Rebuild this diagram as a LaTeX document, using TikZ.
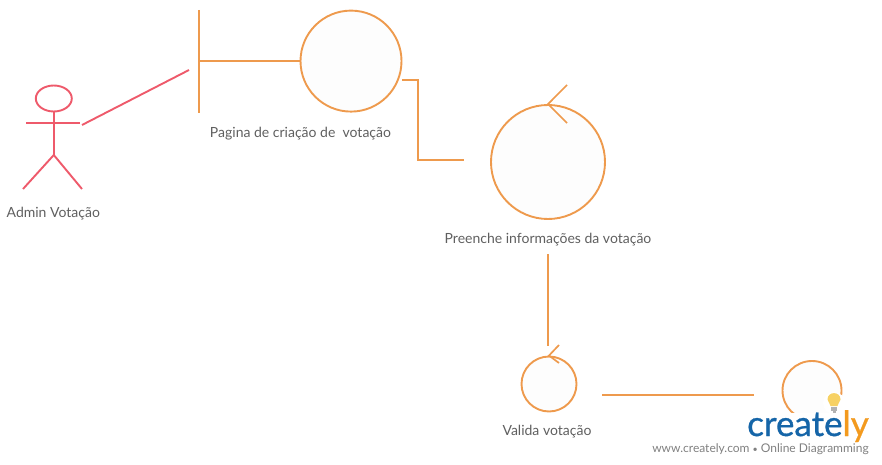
\documentclass[tikz,border=0pt]{standalone}
\usepackage{fontspec}
\setmainfont{Lato}[]
\newfontfamily\logofont{Lato}[FakeBold=0.8]
\usetikzlibrary{shapes.geometric}
\definecolor{linkor}{HTML}{EE9A4D}
\definecolor{actorred}{HTML}{EE5A6B}
\definecolor{txtgray}{HTML}{5F5F5F}
\definecolor{fillgray}{HTML}{FDFDFD}
\definecolor{logoblue}{HTML}{1565A8}
\definecolor{logoor}{HTML}{F39A1E}
\definecolor{bulb}{HTML}{F7D163}
\tikzset{
  orline/.style={draw=linkor,line width=1.9pt},
  redline/.style={draw=actorred,line width=1.9pt},
  ctl/.style={circle,draw=linkor,line width=1.9pt,fill=fillgray,inner sep=0pt},
  lbl/.style={text=txtgray,font=\fontsize{14}{16}\selectfont,inner sep=0pt,anchor=center},
}
\begin{document}
\begin{tikzpicture}[x=1pt,y=-1pt]
\useasboundingbox (0,0) rectangle (882,465);
% actor
\node[ellipse,draw=actorred,line width=1.9pt,minimum width=36pt,minimum height=26pt,inner sep=0pt] (head) at (53.8,98.5) {};
\coordinate (armL) at (26,123);
\coordinate (armR) at (80,123);
\coordinate (hip) at (53.8,155);
\coordinate (footL) at (23,189);
\coordinate (footR) at (82,189);
\draw[redline] (head.south) -- (hip);
\draw[redline] (armL) -- (armR);
\draw[redline] (footL) -- (hip) -- (footR);
\node[lbl] (actorlbl) at (53.3,214) {Admin Votação};
% boundary
\node[ctl,minimum size=101pt] (pagina) at (351,61.1) {};
\coordinate (barT) at (199,10);
\coordinate (barB) at (199,113);
\coordinate (barM) at (199,61.1);
\draw[orline] (barT) -- (barB);
\draw[orline] (barM) -- (pagina.west);
\node[lbl] (paginalbl) at (300.5,134) {Pagina de criação de\ \ votação};
% actor link
\coordinate (lnkA) at (82,125);
\coordinate (lnkB) at (189,70);
\draw[redline] (lnkA) -- (lnkB);
% control 2
\node[ctl,minimum size=114pt] (preenche) at (548,162) {};
\coordinate (arr2a) at (567,85);
\coordinate (arr2b) at (567,123);
\draw[orline,line width=1.7pt] (arr2a) -- (preenche.north) -- (arr2b);
\node[lbl] (preenchelbl) at (548,240) {Preenche informações da votação};
% elbow
\coordinate (e1) at (402,80);
\coordinate (e2) at (418,80);
\coordinate (e3) at (418,160);
\coordinate (e4) at (464,160);
\draw[orline] (e1) -- (e2) -- (e3) -- (e4);
% link to valida
\coordinate (v1) at (548,254);
\coordinate (v2) at (548,346);
\draw[orline] (v1) -- (v2);
% control 3
\node[ctl,minimum size=55pt] (valida) at (549,384) {};
\coordinate (arr3a) at (559,345);
\coordinate (arr3b) at (559,363);
\draw[orline,line width=1.7pt] (arr3a) -- (valida.north) -- (arr3b);
\node[lbl] (validalbl) at (547,432) {Valida votação};
% link to last
\coordinate (w1) at (602,395);
\coordinate (w2) at (754,395);
\draw[orline] (w1) -- (w2);
% control 4
\node[ctl,minimum size=59pt] (last) at (812,390.5) {};
% logo
\fill[white] (745,413) rectangle (872,444);
\fill[white] (834,403) circle (11pt);
\node[inner sep=0pt,anchor=base west,font=\logofont\fontsize{35}{35}\selectfont] (logotxt) at (747,436) {\textcolor{logoblue}{create}\textcolor{logoor}{ly}};
\fill[bulb] (830.5,406) .. controls (829,402) and (827.5,400) .. (827.5,399.5) .. controls (827.5,391) and (840.5,391) .. (840.5,399.5) .. controls (840.5,400) and (839,402) .. (837.5,406) -- cycle;
\fill[gray!60] (831,407) rectangle (837,411);
\fill[gray!60] (832.5,411) rectangle (835.5,413);
\node[inner sep=0pt,anchor=center,text=gray,font=\fontsize{12}{14}\selectfont] (wm) at (760.5,449) {www.creately.com {\fontsize{9}{9}\selectfont\textbullet} Online Diagramming};
\end{tikzpicture}
\end{document}
